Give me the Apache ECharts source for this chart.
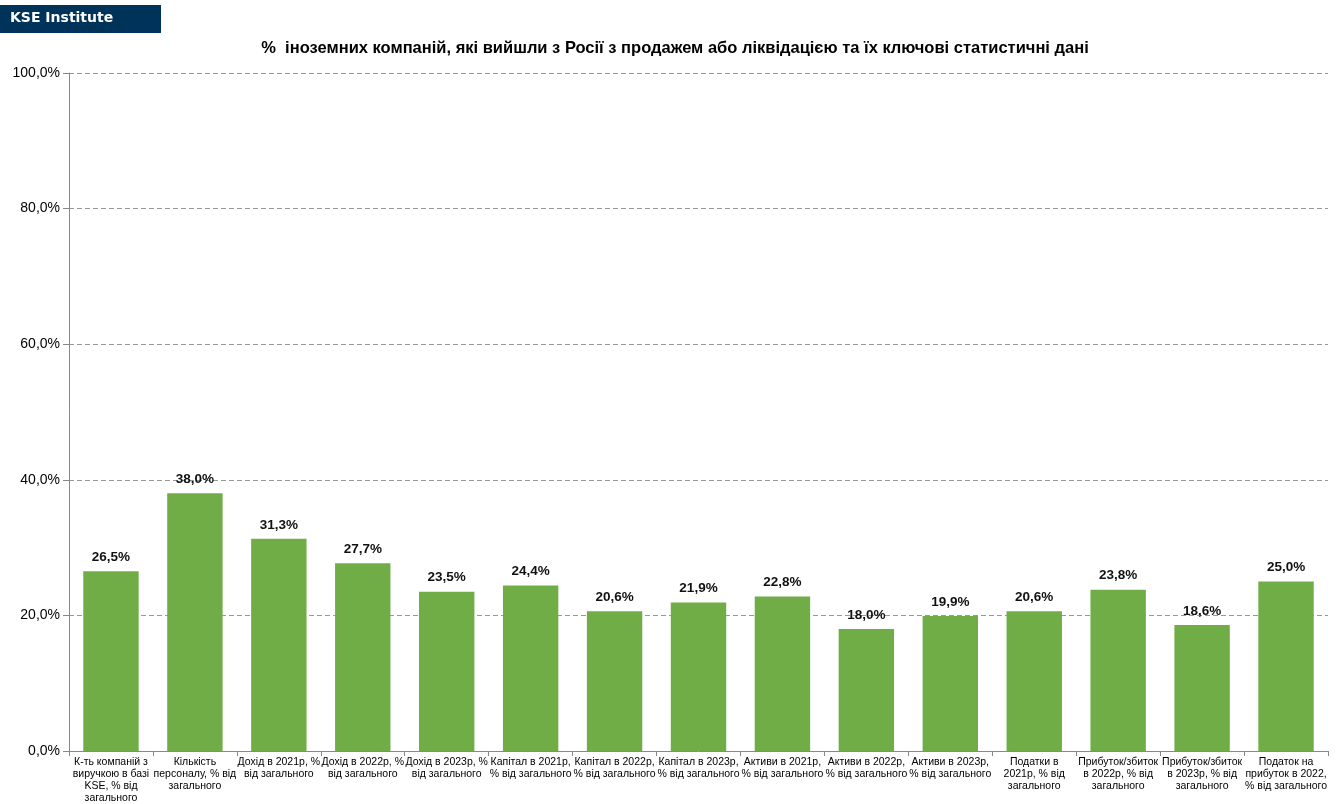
<!DOCTYPE html>
<html>
<head>
<meta charset="utf-8">
<script src="https://cdn.jsdelivr.net/npm/echarts@6/dist/echarts.min.js"></script>
<style>
  html, body { margin: 0; padding: 0; background: #fff; }
  #chart { width: 1336px; height: 804px; }
</style>
</head>
<body>
<div id="chart"></div>
<script>
var categories = [
  'К-ть компаній з\nвиручкою в базі\nKSE, % від\nзагального',
  'Кількість\nперсоналу, % від\nзагального',
  'Дохід в 2021р, %\nвід загального',
  'Дохід в 2022р, %\nвід загального',
  'Дохід в 2023р, %\nвід загального',
  'Капітал в 2021р,\n% від загального',
  'Капітал в 2022р,\n% від загального',
  'Капітал в 2023р,\n% від загального',
  'Активи в 2021р,\n% від загального',
  'Активи в 2022р,\n% від загального',
  'Активи в 2023р,\n% від загального',
  'Податки в\n2021р, % від\nзагального',
  'Прибуток/збиток\nв 2022р, % від\nзагального',
  'Прибуток/збиток\nв 2023р, % від\nзагального',
  'Податок на\nприбуток в 2022,\n% від загального'
];
var shareValues = [26.5, 38.0, 31.3, 27.7, 23.5, 24.4, 20.6, 21.9, 22.8, 18.0, 19.9, 20.6, 23.8, 18.6, 25.0];

function pct(v) {
  return v.toFixed(1).replace('.', ',') + '%';
}

var myChart = echarts.init(document.getElementById('chart'));
var option = {
  animation: false,
  textStyle: { fontFamily: '"Liberation Sans", Arial, sans-serif' },
  title: {
    text: '%  іноземних компаній, які вийшли з Росії з продажем або ліквідацією та їх ключові статистичні дані',
    left: 670,
    textAlign: 'center',
    top: 35,
    textStyle: { fontSize: 16.5, fontWeight: 'bold', color: '#000' }
  },
  graphic: [
    {
      type: 'rect',
      left: 0, top: 5,
      shape: { width: 161, height: 28 },
      style: { fill: '#003359' }
    },
    {
      type: 'text',
      left: 10, top: 11,
      style: { text: 'KSE Institute', fill: '#fff', font: 'bold 14px "DejaVu Sans", sans-serif' }
    }
  ],
  grid: { left: 69, right: 8, top: 73, bottom: 53 },
  xAxis: {
    type: 'category',
    data: categories,
    axisLine: { lineStyle: { color: '#888' } },
    axisTick: { show: true, length: 5, lineStyle: { color: '#888' } },
    axisLabel: { interval: 0, color: '#000', fontSize: 10.5, lineHeight: 12, margin: 5 }
  },
  yAxis: {
    type: 'value',
    min: 0, max: 100, interval: 20,
    axisLine: { show: true, lineStyle: { color: '#888' } },
    axisTick: { show: true, length: 6, lineStyle: { color: '#888' } },
    axisLabel: { color: '#000', fontSize: 14, margin: 9, formatter: function (v) { return pct(v); } },
    splitLine: { lineStyle: { color: '#999', type: [5, 3] } }
  },
  series: [
    {
      type: 'bar',
      data: shareValues,
      barCategoryGap: '34%',
      itemStyle: { color: '#70AD47' },
      label: {
        show: true,
        position: 'top',
        distance: 7,
        color: '#111',
        fontWeight: 'bold',
        fontSize: 13.5,
        formatter: function (p) { return pct(p.value); }
      }
    }
  ]
};
option && myChart.setOption(option);
</script>
</body>
</html>
